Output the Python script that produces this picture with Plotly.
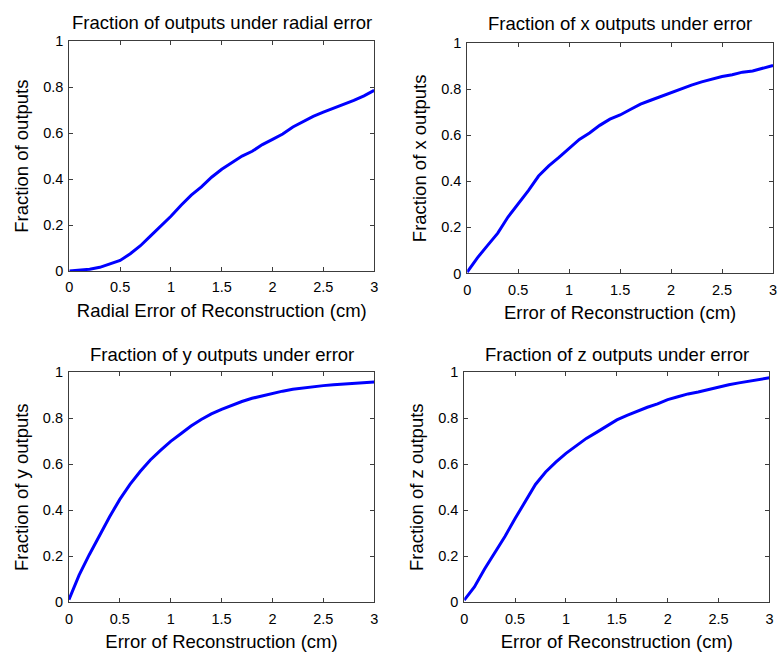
import plotly.graph_objects as go

# ---- data ----
err_grid = [0.0, 0.1, 0.2, 0.3, 0.4, 0.5, 0.6, 0.7, 0.8, 0.9, 1.0,
            1.1, 1.2, 1.3, 1.4, 1.5, 1.6, 1.7, 1.8, 1.9, 2.0,
            2.1, 2.2, 2.3, 2.4, 2.5, 2.6, 2.7, 2.8, 2.9, 3.0]

radial_frac = [0.0, 0.003, 0.008, 0.016, 0.03, 0.046, 0.075, 0.11, 0.153, 0.196, 0.238,
               0.286, 0.33, 0.366, 0.408, 0.443, 0.472, 0.50, 0.521, 0.55, 0.573,
               0.596, 0.627, 0.651, 0.673, 0.691, 0.708, 0.724, 0.742, 0.762, 0.786]
x_frac = [0.006, 0.068, 0.122, 0.175, 0.245, 0.30, 0.36, 0.423, 0.467, 0.504, 0.544,
          0.582, 0.61, 0.643, 0.67, 0.688, 0.712, 0.735, 0.752, 0.769, 0.787,
          0.804, 0.818, 0.832, 0.844, 0.855, 0.863, 0.874, 0.879, 0.89, 0.903]
y_frac = [0.012, 0.118, 0.207, 0.29, 0.372, 0.447, 0.512, 0.568, 0.618, 0.66, 0.699,
          0.732, 0.766, 0.794, 0.818, 0.838, 0.856, 0.872, 0.886, 0.897, 0.907,
          0.917, 0.925, 0.931, 0.936, 0.941, 0.945, 0.948, 0.951, 0.954, 0.957]
z_frac = [0.01, 0.067, 0.145, 0.216, 0.286, 0.364, 0.441, 0.512, 0.566, 0.609, 0.647,
          0.681, 0.712, 0.738, 0.765, 0.792, 0.812, 0.83, 0.847, 0.862, 0.88,
          0.893, 0.905, 0.913, 0.924, 0.935, 0.945, 0.953, 0.96, 0.967, 0.975]

titles = ["Fraction of outputs under radial error",
          "Fraction of x outputs under error",
          "Fraction of y outputs under error",
          "Fraction of z outputs under error"]
xlabels = ["Radial Error of Reconstruction (cm)",
           "Error of Reconstruction (cm)",
           "Error of Reconstruction (cm)",
           "Error of Reconstruction (cm)"]
ylabels = ["Fraction of outputs", "Fraction of x outputs",
           "Fraction of y outputs", "Fraction of z outputs"]
x_ticks = [0, 0.5, 1, 1.5, 2, 2.5, 3]
x_ticktext = ["0", "0.5", "1", "1.5", "2", "2.5", "3"]
y_ticks = [0, 0.2, 0.4, 0.6, 0.8, 1]
y_ticktext = ["0", "0.2", "0.4", "0.6", "0.8", "1"]

series = [radial_frac, x_frac, y_frac, z_frac]

W, H = 780, 666
# plot-area pixel boxes (left, right, top, bottom)
boxes = [(66, 374, 34, 269.5), (468, 777, 36, 272), (65.6, 374, 373, 609), (465, 773.4, 373, 609)]
title_y = [15, 16, 355, 355]

FONT = "Liberation Sans, Arial, Helvetica, sans-serif"
AX = "#3c3c3c"
fig = go.Figure()
layout = dict(
    width=W, height=H, margin=dict(l=0, r=0, t=0, b=0),
    paper_bgcolor="white", plot_bgcolor="white", showlegend=False,
    font=dict(family=FONT, color="black", size=14),
    annotations=[],
)

for i, (vals, box) in enumerate(zip(series, boxes)):
    n = "" if i == 0 else str(i + 1)
    L, R, T, B = box
    fig.add_trace(go.Scatter(x=err_grid, y=vals, mode="lines",
                             line=dict(color="#0000FF", width=3),
                             xaxis="x" + n, yaxis="y" + n, hoverinfo="skip"))
    common = dict(showline=True, mirror="ticks", linecolor=AX, linewidth=1,
                  ticks="inside", ticklen=4, tickcolor=AX, showgrid=False,
                  zeroline=False, tickfont=dict(family=FONT, size=14.5, color="black"))
    layout["xaxis" + n] = dict(domain=[L / W, R / W], range=[0, 3], anchor="y" + n,
                               tickvals=x_ticks, ticktext=x_ticktext,
                               ticklabelstandoff=3,
                               title=dict(text=xlabels[i], font=dict(size=18.5, family=FONT), standoff=9),
                               **common)
    layout["yaxis" + n] = dict(domain=[1 - B / H, 1 - T / H], range=[0, 1], anchor="x" + n,
                               tickvals=y_ticks, ticktext=y_ticktext,
                               ticklabelstandoff=2,
                               title=dict(text=ylabels[i], font=dict(size=18.5, family=FONT), standoff=9),
                               **common)
    layout["annotations"].append(dict(
        text=titles[i], xref="paper", yref="paper",
        x=(L + R) / 2 / W, y=1 - title_y[i] / H, xanchor="center", yanchor="middle",
        showarrow=False, font=dict(size=18.5, family=FONT, color="black")))

fig.update_layout(**layout)
fig.write_html("out.html")
